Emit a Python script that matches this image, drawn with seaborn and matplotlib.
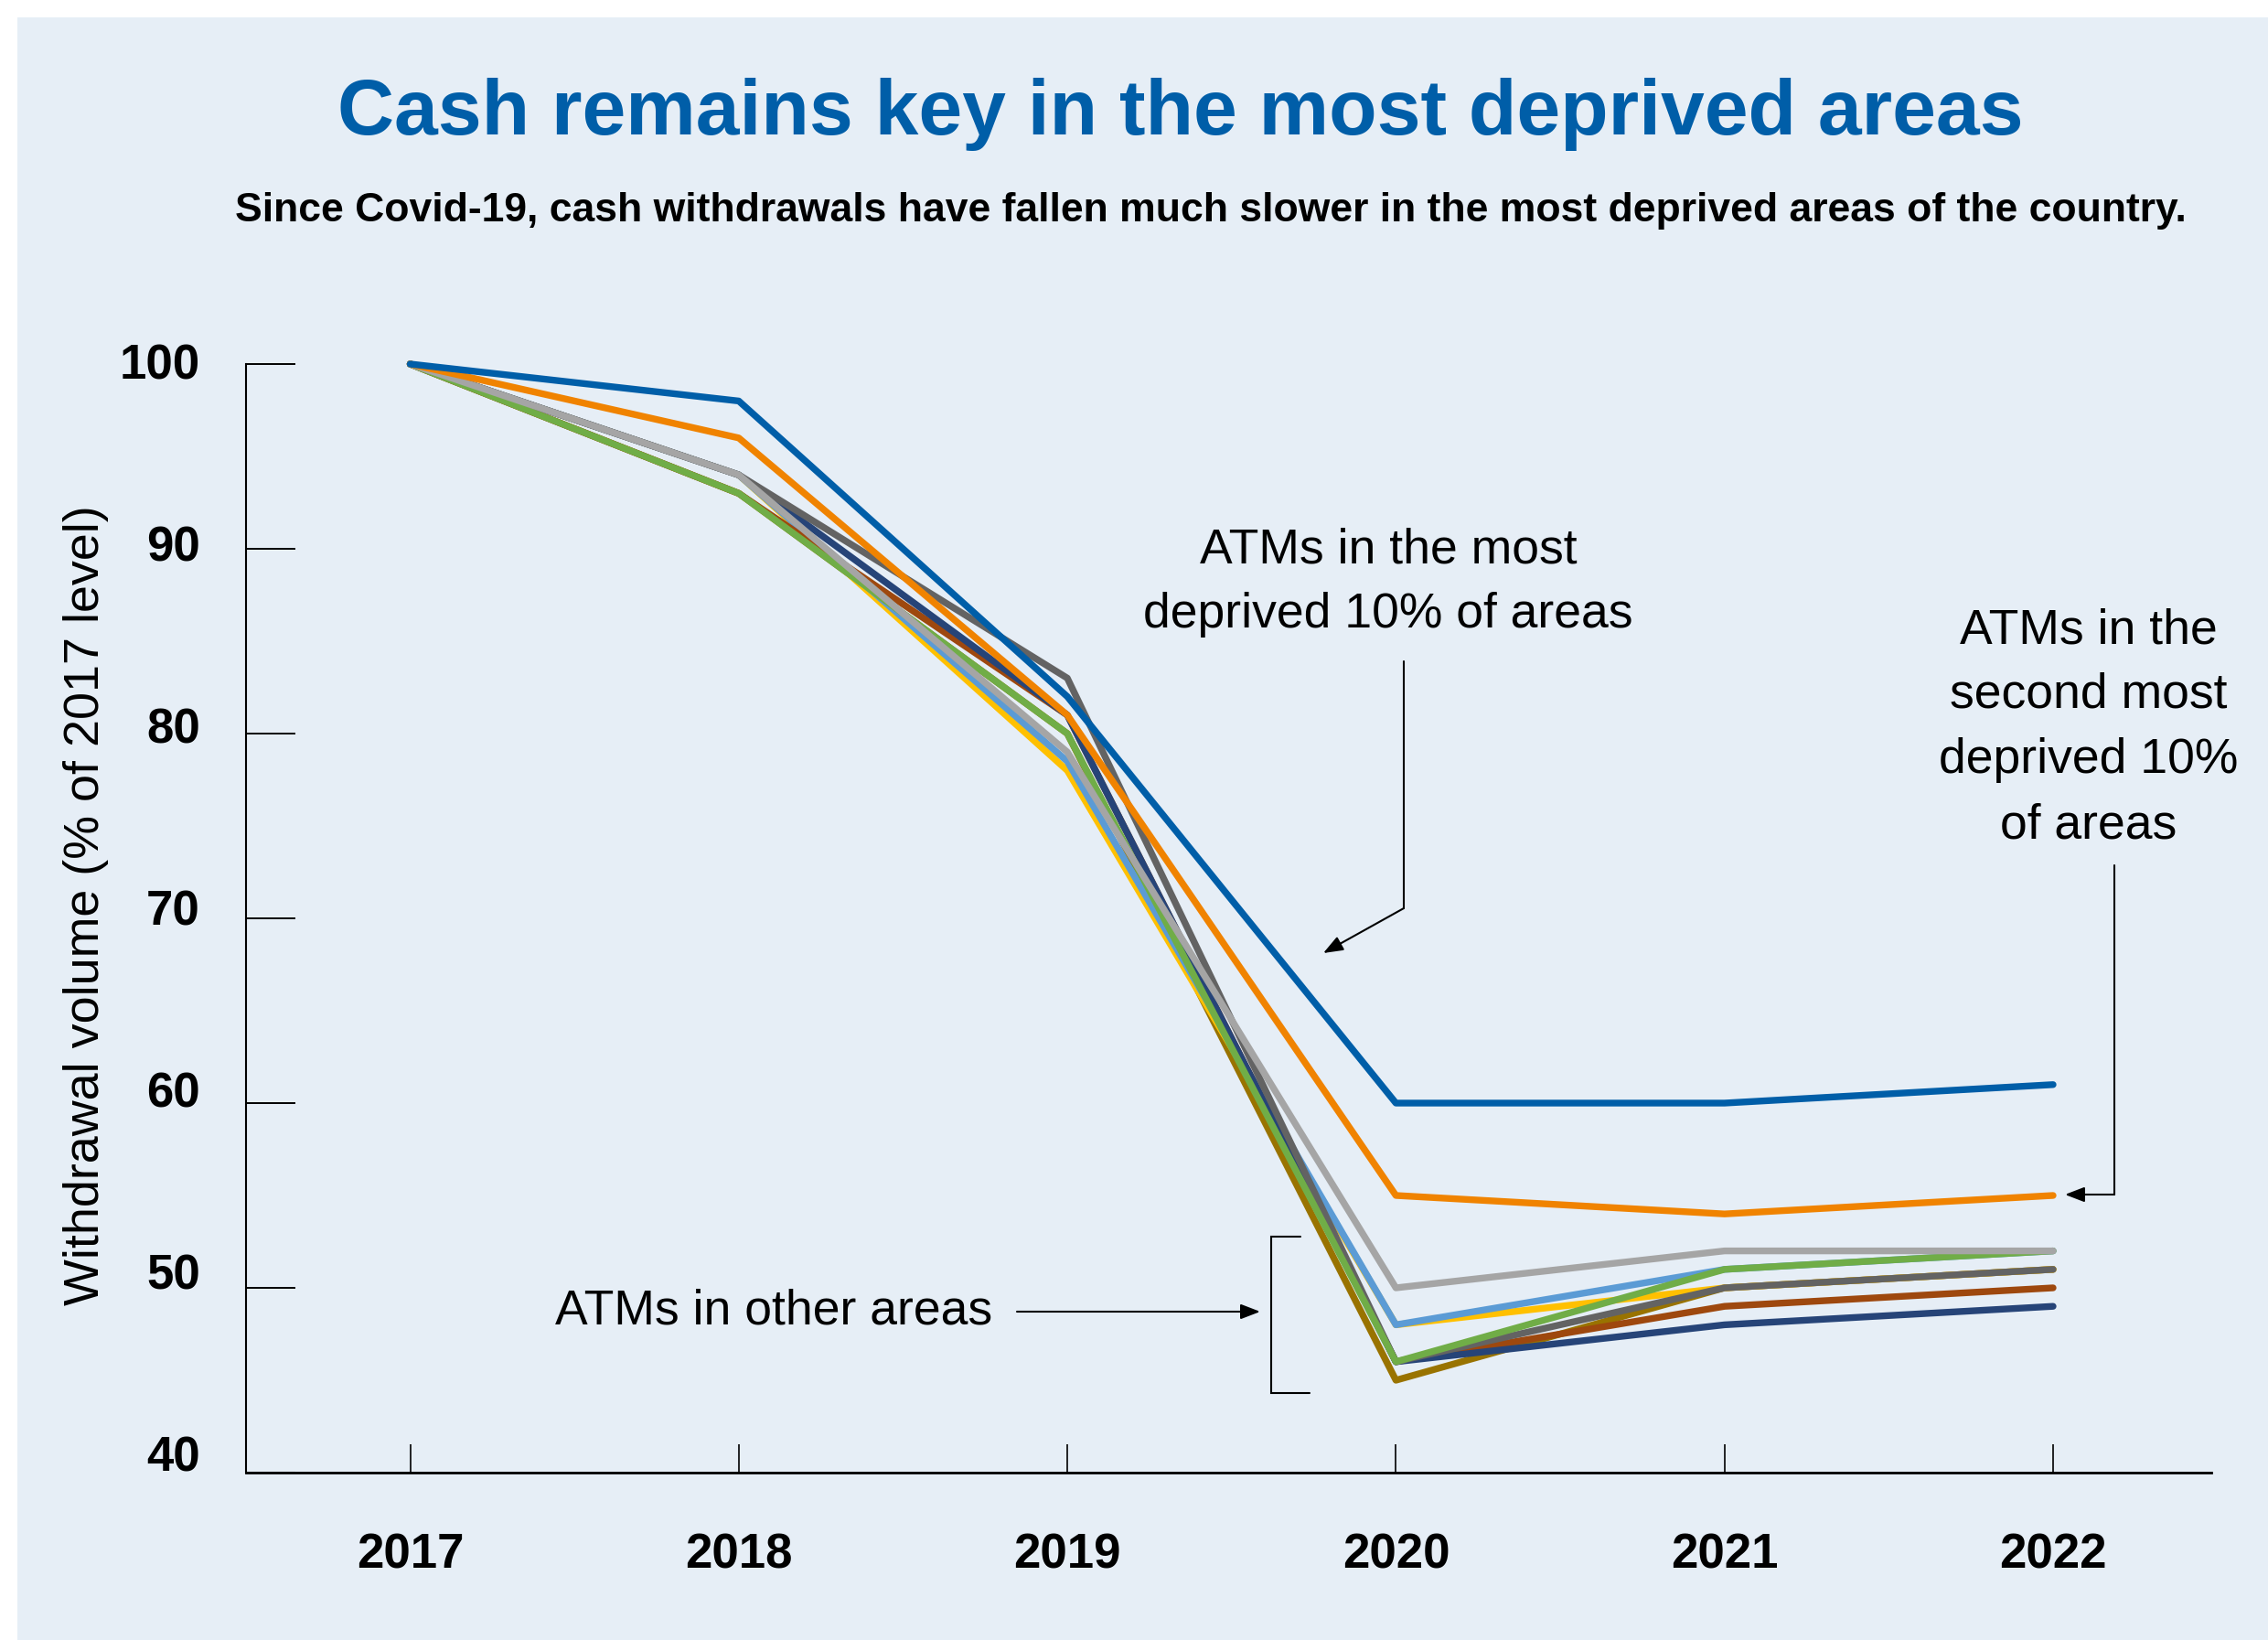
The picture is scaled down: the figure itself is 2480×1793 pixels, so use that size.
import numpy as np
import pandas as pd
import matplotlib
matplotlib.use("Agg")
import matplotlib.pyplot as plt
import matplotlib.transforms as mtransforms
import seaborn as sns
from matplotlib.lines import Line2D
from matplotlib.patches import Rectangle, FancyArrowPatch, ArrowStyle

# ---------------- data ----------------
years = [2017, 2018, 2019, 2020, 2021, 2022]
most_deprived = [100, 98, 82, 60, 60, 61]
second_most_deprived = [100, 96, 81, 55, 54, 55]
decile_3 = [100, 94, 79, 50, 52, 52]
decile_4 = [100, 94, 78.5, 48, 51, 52]
decile_5 = [100, 94, 78, 48, 50, 51]
decile_6 = [100, 93, 80, 46, 51, 52]
decile_7 = [100, 94, 83, 46, 50, 51]
decile_8 = [100, 93, 81, 46, 49, 50]
decile_9 = [100, 94, 81, 46, 48, 49]
decile_10 = [100, 93, 80, 45, 50, 51]

series = {
    "Decile 10": decile_10,
    "Decile 5": decile_5,
    "Decile 4": decile_4,
    "Decile 8": decile_8,
    "Decile 9": decile_9,
    "Decile 7": decile_7,
    "Decile 6": decile_6,
    "Decile 3": decile_3,
    "Second most deprived": second_most_deprived,
    "Most deprived": most_deprived,
}
colors = {
    "Decile 10": "#997300",
    "Decile 5": "#FFC000",
    "Decile 4": "#5B9BD5",
    "Decile 8": "#9E480E",
    "Decile 9": "#264478",
    "Decile 7": "#636363",
    "Decile 6": "#70AD47",
    "Decile 3": "#A5A5A5",
    "Second most deprived": "#F08300",
    "Most deprived": "#005EA8",
}
y_ticks = [40, 50, 60, 70, 80, 90, 100]
title = "Cash remains key in the most deprived areas"
subtitle = ("Since Covid-19, cash withdrawals have fallen much slower in the most "
            "deprived areas of the country.")
y_label = "Withdrawal volume (% of 2017 level)"

df = pd.DataFrame(
    [(name, yr, v) for name, vals in series.items() for yr, v in zip(years, vals)],
    columns=["series", "year", "value"],
)

# ---------------- style ----------------
sns.set_style("ticks")
plt.rcParams["font.family"] = ["Liberation Sans", "DejaVu Sans"]
plt.rcParams["text.color"] = "black"
plt.rcParams["axes.labelcolor"] = "black"

W, H = 2480, 1793
BG = "#E6EEF6"
fig = plt.figure(figsize=(W / 100, H / 100), dpi=100, facecolor="white")


def fx(x):
    return x / W


def fy(y):
    return 1 - y / H


fig.patches.append(Rectangle((fx(19), 0), 1 - fx(19), fy(19), transform=fig.transFigure,
                             facecolor=BG, edgecolor="none", zorder=-10))

ax = fig.add_axes([fx(269), fy(1610), (2418 - 269) / W, (1610 - 398) / H])
ax.set_facecolor("none")

sns.lineplot(data=df, x="year", y="value", hue="series", hue_order=list(series.keys()),
             palette=colors, linewidth=5.3, legend=False, errorbar=None, ax=ax,
             solid_capstyle="round", clip_on=False)

ax.set_xlim(2016.5004, 2022.4815)
ax.set_ylim(40, 100)
ax.set_xticks(years)
ax.set_xticklabels([str(y) for y in years])
ax.set_yticks(y_ticks)
ax.set_yticklabels([str(v) for v in y_ticks])
ax.set_xlabel("")
ax.set_ylabel("")
for s in ["top", "right"]:
    ax.spines[s].set_visible(False)
ax.spines["left"].set_linewidth(1.5)
ax.spines["bottom"].set_linewidth(2)
ax.spines["left"].set_color("black")
ax.spines["bottom"].set_color("black")
ax.tick_params(axis="y", direction="in", length=39, width=1.4, pad=36,
               labelsize=38, colors="black")
ax.tick_params(axis="x", direction="in", length=22, width=1.2, pad=47,
               labelsize=38, colors="black")
for lab in ax.get_xticklabels() + ax.get_yticklabels():
    lab.set_fontweight("bold")
# labels in the original sit slightly above their ticks, more so further down
for v, lab in zip(y_ticks, ax.get_yticklabels()):
    dy_px = (2 + (100 - v) * 0.19) * 1.58
    lab.set_transform(lab.get_transform() +
                      mtransforms.ScaledTranslation(0, dy_px / 100, fig.dpi_scale_trans))

# ---------------- texts ----------------
fig.text(fx(1291), fy(147), title, ha="center", va="baseline", fontsize=61.8,
         fontweight="bold", color="#005EA8")
fig.text(fx(1324), fy(242), subtitle, ha="center", va="baseline", fontsize=32,
         fontweight="bold", color="black")
fig.text(fx(94), fy(990), y_label, ha="center", va="center", rotation=90,
         fontsize=38.8, color="black")

ann_size = 38.5
for txt, yb in [("ATMs in the most", 615), ("deprived 10% of areas", 686)]:
    fig.text(fx(1518), fy(yb), txt, ha="center", va="baseline", fontsize=ann_size,
             color="black")
for txt, yb in [("ATMs in the", 703), ("second most", 774),
                ("deprived 10%", 845), ("of areas", 916)]:
    fig.text(fx(2284), fy(yb), txt, ha="center", va="baseline", fontsize=ann_size,
             color="black")
fig.text(fx(846), fy(1447), "ATMs in other areas", ha="center", va="baseline",
         fontsize=ann_size, color="black")

# ---------------- arrows & bracket ----------------
lw = 1.5


def poly(pts):
    fig.add_artist(Line2D([fx(p[0]) for p in pts], [fy(p[1]) for p in pts],
                          transform=fig.transFigure, color="black", lw=lw,
                          solid_joinstyle="miter"))


def arrow(p0, p1):
    st = ArrowStyle("-|>", head_length=1.3, head_width=0.5)
    fig.add_artist(FancyArrowPatch((fx(p0[0]), fy(p0[1])), (fx(p1[0]), fy(p1[1])),
                                   transform=fig.transFigure, arrowstyle=st,
                                   mutation_scale=10, color="black", lw=lw,
                                   shrinkA=0, shrinkB=0))


poly([(1535, 723), (1535, 993)])
arrow((1535, 993), (1447, 1042))
poly([(2312, 946), (2312, 1306)])
arrow((2312, 1306), (2258, 1306))
arrow((1112, 1434), (1378, 1434))
poly([(1422, 1352), (1390, 1352), (1390, 1523), (1432, 1523)])

fig.savefig("out.png", dpi=100, facecolor="white")
